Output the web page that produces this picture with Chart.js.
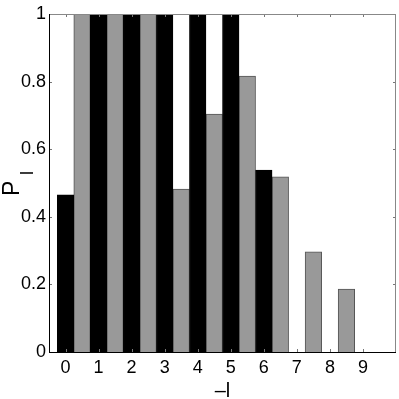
<!DOCTYPE html>
<html><head><meta charset="utf-8">
<script src="https://cdn.jsdelivr.net/npm/chart.js@4/dist/chart.umd.min.js"></script>
<style>html,body{margin:0;padding:0;background:#fff}#wrap{width:399px;height:399px;position:relative}</style>
</head><body><div id="wrap"><canvas id="c"></canvas></div>
<script>
// ---- data ----
const xTickValues = [0, 1, 2, 3, 4, 5, 6, 7, 8, 9];
const xTickLabels = ['0', '1', '2', '3', '4', '5', '6', '7', '8', '9'];
const blackX = [0, 1, 2, 3, 4, 5, 6, 7, 8, 9];
const blackValues = [0.465, 1, 1, 1, 1, 1, 0.538, 0, 0, 0];
const grayX = [0.5, 1.5, 2.5, 3.5, 4.5, 5.5, 6.5, 7.5, 8.5, 9.5];
const grayValues = [1, 1, 1, 0.482, 0.704, 0.816, 0.518, 0.296, 0.186, 0];
const yTickValues = [0, 0.2, 0.4, 0.6, 0.8, 1];
const yTickLabels = ['0', '0.2', '0.4', '0.6', '0.8', '1'];
const xTitle = '\u2013l';
const yTitleMain = 'P';
const yTitleSub = 'l';

const tickFont = {family: '"Liberation Sans Narrow", "Liberation Sans", sans-serif', size: 18};

const framePlugin = {
  id: 'frame',
  afterDatasetsDraw(chart) {
    const {ctx, chartArea: a, scales: {x, y}} = chart;
    ctx.save();
    ctx.lineWidth = 1;
    // inward ticks
    ctx.strokeStyle = '#777';
    const L = 3;
    xTickValues.forEach(v => {
      const px = Math.round(x.getPixelForValue(v)) + 0.5;
      ctx.beginPath();
      ctx.moveTo(px, a.bottom); ctx.lineTo(px, a.bottom - L);
      ctx.moveTo(px, a.top); ctx.lineTo(px, a.top + L);
      ctx.stroke();
    });
    yTickValues.forEach(v => {
      const py = Math.round(y.getPixelForValue(v)) + 0.5;
      ctx.beginPath();
      ctx.moveTo(a.left, py); ctx.lineTo(a.left + L, py);
      ctx.moveTo(a.right, py); ctx.lineTo(a.right - L, py);
      ctx.stroke();
    });
    // top/right box (gray)
    ctx.strokeStyle = '#888';
    ctx.beginPath();
    ctx.moveTo(a.left, Math.round(a.top) + 0.5); ctx.lineTo(a.right, Math.round(a.top) + 0.5);
    ctx.moveTo(Math.round(a.right) - 0.5, a.top); ctx.lineTo(Math.round(a.right) - 0.5, a.bottom);
    ctx.stroke();
    // left/bottom axes (black)
    ctx.strokeStyle = '#000';
    ctx.beginPath();
    ctx.moveTo(Math.round(a.left) + 0.5, a.top); ctx.lineTo(Math.round(a.left) + 0.5, a.bottom + 0.5);
    ctx.moveTo(a.left, Math.round(a.bottom) + 0.5); ctx.lineTo(a.right, Math.round(a.bottom) + 0.5);
    ctx.stroke();
    // titles
    ctx.fillStyle = '#000';
    ctx.textBaseline = 'alphabetic';
    ctx.textAlign = 'center';
    ctx.font = '20px "Liberation Sans", sans-serif';
    ctx.fillText(xTitle, (a.left + a.right) / 2, 397);
    ctx.save();
    ctx.translate(19, 196);
    ctx.rotate(-Math.PI / 2);
    ctx.textAlign = 'left';
    ctx.font = '23px "Liberation Sans", sans-serif';
    ctx.fillText(yTitleMain, 0, 0);
    ctx.font = '18px "Liberation Sans", sans-serif';
    ctx.fillText(yTitleSub, 21, 14);
    ctx.restore();
    ctx.restore();
  }
};

new Chart(document.getElementById('c'), {
  type: 'bar',
  data: {
    datasets: [
      {
        label: 'black',
        data: blackX.map((v, i) => ({x: v, y: blackValues[i]})),
        backgroundColor: '#000',
        borderColor: '#000',
        borderWidth: 1,
        grouped: false,
        categoryPercentage: 1,
        barPercentage: 1
      },
      {
        label: 'gray',
        data: grayX.map((v, i) => ({x: v, y: grayValues[i]})),
        backgroundColor: '#999',
        borderColor: '#555',
        borderWidth: 1,
        grouped: false,
        categoryPercentage: 1,
        barPercentage: 1
      }
    ]
  },
  options: {
    responsive: true,
    maintainAspectRatio: false,
    animation: false,
    layout: {padding: {left: 0, top: 14, right: 3, bottom: 0}},
    plugins: {legend: {display: false}, tooltip: {enabled: false}},
    scales: {
      x: {
        type: 'linear',
        offset: false,
        min: -0.5,
        max: 10,
        grid: {display: false, drawTicks: false, offset: false},
        border: {display: false},
        afterBuildTicks: s => { s.ticks = xTickValues.map(v => ({value: v})); },
        afterFit: s => { s.height = 47; },
        ticks: {
          color: '#000',
          font: tickFont,
          padding: 5,
          maxRotation: 0,
          autoSkip: false,
          callback: (v) => xTickLabels[xTickValues.indexOf(v)]
        }
      },
      y: {
        type: 'linear',
        min: 0,
        max: 1,
        grid: {display: false, drawTicks: false},
        border: {display: false},
        afterBuildTicks: s => { s.ticks = yTickValues.map(v => ({value: v})); },
        afterFit: s => { s.width = 49; },
        ticks: {
          color: '#000',
          font: tickFont,
          padding: 3,
          autoSkip: false,
          callback: (v) => yTickLabels[yTickValues.indexOf(v)]
        }
      }
    }
  },
  plugins: [framePlugin]
});
</script></body></html>
